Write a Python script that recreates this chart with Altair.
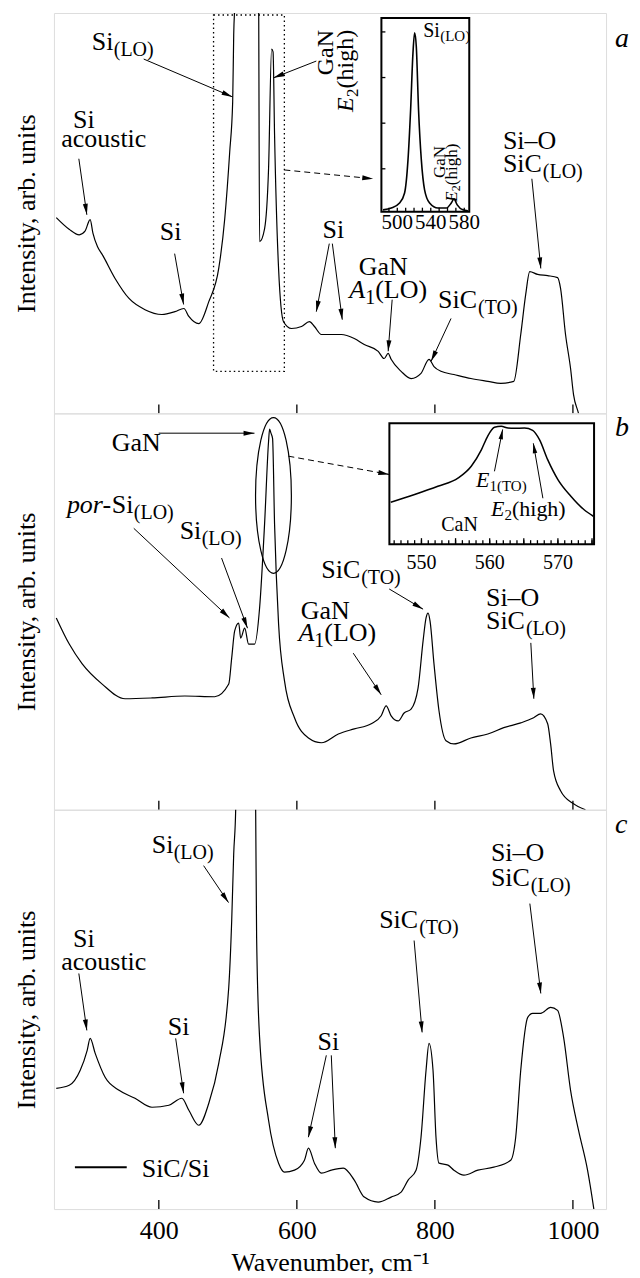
import math
import altair as alt
import pandas as pd

SERIF = "Liberation Serif"
W = 553
H = {"a": 401, "b": 397, "c": 400}
XDOM = [248, 1048]
YDOM = [0, 100]
XTICKS = [400, 600, 800, 1000]

# ---------------- spectra ----------------
a_wn = [251.4, 270.0, 284.7, 293.0, 300.5, 304.5, 311.2, 317.9, 336.6, 356.8, 380.0, 404.5, 423.3,
        436.3, 443.5, 457.9, 472.4, 486.8, 495.5, 502.7, 507.0, 508.5, 510.5, 514, 520, 530,
        540, 544.6, 546.0, 553.2, 559.0, 563.4, 565.5, 567.7, 573.5, 580.7, 592.2, 606.7,
        618.2, 625.5, 635.6, 650.0, 664.4, 683.2, 697.7, 717.9, 726.5, 732.3, 736.6, 751.1,
        765.5, 779.9, 791.5, 798.7, 808.8, 827.6, 852.2, 876.7, 895.5, 914.3, 924.4, 931.6,
        937.4, 948.9, 963.4, 977.8, 982.1, 989.3, 996.6, 1000.9, 1008.1, 1012]
a_int = [48.9, 46.0, 44.6, 45.5, 48.4, 45.0, 41.6, 39.7, 33.7, 28.7, 25.9, 24.7, 25.4,
         26.2, 24.2, 22.4, 27.9, 36.2, 48.6, 65.3, 77.8, 94.5, 105, 160, 260, 220,
         170, 105, 42.9, 46.1, 61.1, 91.0, 90.3, 69.6, 36.2, 22.9, 21.2, 21.7,
         22.9, 21.7, 19.7, 19.7, 19.7, 18.7, 17.2, 15.5, 13.7, 15.0, 13.5, 10.5,
         8.7, 10.0, 13.5, 11.7, 10.5, 9.7, 8.7, 8.0, 7.5, 8.0, 19.7, 29.7,
         35.4, 34.7, 34.4, 33.9, 31.2, 19.7, 11.2, 4.7, 0, -3]

b_wn = [251.4, 270.2, 289.0, 317.9, 351.1, 390.1, 437.7, 481.0, 501.3, 505.6, 509.9, 515.7,
        518.6, 524.4, 530.1, 538.8, 546.0, 553.2, 559.0, 560.5, 562.5, 564.8, 567.7, 573.5,
        582.1, 596.6, 616.8, 635.6, 660.1, 683.2, 707.8, 722.2, 729.4, 736.6, 746.8, 755.4,
        765.5, 775.6, 782.9, 787.2, 790.1, 793.0, 798.7, 806.0, 816.1, 827.6, 852.2, 876.7,
        899.8, 924.4, 943.1, 953.2, 963.4, 967.7, 972.0, 982.1, 1000.9, 1018.2]
b_int = [48.4, 41.8, 36.8, 31.7, 28.0, 28.2, 28.7, 28.5, 31.7, 38.3, 45.1, 47.1,
         43.3, 45.8, 41.8, 41.8, 50.9, 72.0, 92.9, 96.0, 95.0, 93.7, 72.0, 46.9,
         32.5, 23.2, 18.1, 16.9, 19.1, 20.4, 21.7, 23.7, 26.2, 23.7, 22.4, 24.4,
         25.4, 30.7, 42.6, 48.4, 49.6, 47.6, 36.8, 24.9, 17.4, 16.6, 18.1, 19.1,
         20.7, 21.9, 23.2, 24.2, 21.7, 16.6, 9.8, 4.8, 1.5, 0]

c_wn = [251.4, 270.2, 286.1, 296.2, 300.5, 307.8, 322.2, 342.4, 365.5, 390.1, 414.6, 433.4,
        443.5, 457.9, 472.4, 486.8, 501.3, 505.6, 508.5, 511.4, 515, 520, 530, 538, 540.3,
        541.7, 546.0, 559.0, 573.5, 582.1, 596.6, 611.0, 616.8, 625.5, 635.6, 650.0, 667.3,
        683.2, 697.7, 717.9, 736.6, 751.1, 761.2, 772.7, 779.9, 787.2, 791.5, 797.3, 801.6,
        806.0, 819.0, 827.6, 842.1, 862.3, 885.4, 909.9, 917.1, 924.4, 934.5, 941.7, 953.2,
        967.7, 977.8, 986.5, 996.6, 1008.1, 1021.2, 1029.9, 1032]
c_int = [30.25, 31.0, 34.75, 39.75, 42.75, 39.0, 33.0, 29.75, 27.75, 25.5, 26.0, 27.75,
         24.75, 21.0, 26.5, 36.5, 55.5, 72.25, 89.0, 100.25, 170, 260, 200, 120, 100.25,
         68.0, 43.0, 22.25, 11.5, 9.25, 9.75, 12.25, 15.25, 11.5, 9.0, 9.75, 10.25,
         7.25, 3.0, 1.75, 3.0, 4.25, 7.25, 9.75, 18.0, 34.75, 41.5, 34.75, 18.0,
         11.5, 11.0, 9.75, 8.5, 9.75, 10.5, 12.25, 18.0, 34.75, 48.0, 49.0, 49.0,
         50.5, 49.75, 43.0, 29.75, 19.75, 9.75, 0.5, -2]

# inset of panel a
ia_wn = [482.9, 492.8, 502.7, 508.7, 512.8, 515.9, 518.7, 520.7, 522.7, 525.4, 528.7, 532.6,
         538.6, 548.6, 558.5, 564.5, 567.7, 571.6, 578.4, 584.4]
ia_int = [0.10, 0.14, 0.25, 0.47, 1.20, 2.29, 3.53, 3.98, 3.68, 2.29, 1.20, 0.54,
          0.25, 0.14, 0.14, 0.25, 0.34, 0.21, 0.10, 0.08]
ia_xdom = [481, 586]
ia_ydom = [0.06, 4.305]
ia_xticks = [490, 500, 510, 520, 530, 540, 550, 560, 570, 580]
ia_yticks = [1, 2, 3, 4]
ia_labels = [500, 540, 580]

# inset of panel b
ib_wn = [545.5, 549.0, 552.4, 555.4, 557.3, 558.8, 559.7, 560.7, 561.7, 562.7, 563.6, 565.1,
         566.3, 567.3, 568.5, 570.0, 571.9, 573.8, 575.2]
ib_int = [34.7, 41.1, 47.9, 54.8, 64.5, 78.3, 89.3, 96.7, 97.5, 96.1, 95.9, 96.1,
          94.2, 86.5, 70.0, 53.5, 39.7, 28.7, 23.1]
ib_xdom = [545.3, 575.3]
ib_ydom = [0, 100]
ib_xticks = list(range(546, 576))
ib_labels = [550, 560, 570]

ARROW = "M0,0 L-0.45,2 L0.45,2 Z"
ELLIPSE = ("M0,-1 C0.127,-1 0.23,-0.552 0.23,0 C0.23,0.552 0.127,1 0,1 "
           "C-0.127,1 -0.23,0.552 -0.23,0 C-0.23,-0.552 -0.127,-1 0,-1 Z")


class Enc:
    def __init__(self, xdom, ydom, xrange=None, yrange=None, xaxis=None, yaxis=None):
        xs = dict(domain=xdom, nice=False, zero=False)
        ys = dict(domain=ydom, nice=False, zero=False)
        if xrange:
            xs["range"] = xrange
        if yrange:
            ys["range"] = yrange
        self.xs = alt.Scale(**xs)
        self.ys = alt.Scale(**ys)
        self.xaxis = xaxis
        self.yaxis = yaxis

    def X(self, f="x"):
        return alt.X(f"{f}:Q", scale=self.xs, axis=self.xaxis)

    def Y(self, f="y"):
        return alt.Y(f"{f}:Q", scale=self.ys, axis=self.yaxis)


def text(enc, x, y, s, size=26, dx=0, dy=0, italic=False, align="left", angle=0,
         baseline="alphabetic"):
    df = pd.DataFrame({"x": [x], "y": [y], "t": [s]})
    kw = dict(align=align, baseline=baseline, fontSize=size, font=SERIF, color="black",
              fontStyle="italic" if italic else "normal")
    if dx:
        kw["dx"] = dx
    if dy:
        kw["dy"] = dy
    if angle:
        kw["angle"] = angle
    return alt.Chart(df).mark_text(**kw).encode(x=enc.X(), y=enc.Y(), text="t:N")


def line(enc, xs, ys, width=1.2, interp="monotone"):
    df = pd.DataFrame({"x": xs, "y": ys})
    return alt.Chart(df).mark_line(color="black", strokeWidth=width, interpolate=interp,
                                   clip=True).encode(x=enc.X(), y=enc.Y())


def arrows(enc, arrs, sx, sy, dash=None, width=1.0, head=120):
    rows = []
    for (x1, y1, x2, y2) in arrs:
        ang = math.degrees(math.atan2((x2 - x1) * sx, (y2 - y1) * sy)) % 360
        rows.append(dict(x=x1, y=y1, x2=x2, y2=y2, ang=ang))
    df = pd.DataFrame(rows)
    rk = dict(color="black", strokeWidth=width)
    if dash:
        rk["strokeDash"] = dash
    r = alt.Chart(df).mark_rule(**rk).encode(x=enc.X(), y=enc.Y(), x2="x2:Q", y2="y2:Q")
    h = alt.Chart(df).mark_point(shape=ARROW, size=head, filled=True, color="black",
                                 opacity=1, strokeWidth=0).encode(
        x=enc.X("x2"), y=enc.Y("y2"), angle=alt.Angle("ang:Q", scale=None))
    return [r, h]


def xticks(enc, vals, y0, length):
    df = pd.DataFrame({"x": vals, "y": [y0] * len(vals), "y2": [y0 + length] * len(vals)})
    return alt.Chart(df).mark_rule(color="black", strokeWidth=1.3).encode(
        x=enc.X(), y=enc.Y(), y2="y2:Q")


def yticks(enc, vals, x0, length):
    df = pd.DataFrame({"y": vals, "x": [x0] * len(vals), "x2": [x0 + length] * len(vals)})
    return alt.Chart(df).mark_rule(color="black", strokeWidth=1.3).encode(
        x=enc.X(), y=enc.Y(), x2="x2:Q")


def frame(enc, xdom, ydom, width=2.0):
    df = pd.DataFrame({"x": [xdom[0]], "x2": [xdom[1]], "y": [ydom[0]], "y2": [ydom[1]]})
    return alt.Chart(df).mark_rect(fill="white", stroke="black", strokeWidth=width).encode(
        x=enc.X(), x2="x2:Q", y=enc.Y(), y2="y2:Q")


YAXIS = alt.Axis(title="Intensity, arb. units", labels=False, ticks=False, domain=False,
                 grid=False, titleFont=SERIF, titleFontSize=26, titleFontWeight="normal",
                 titleColor="black", titlePadding=14)
XAXIS_C = alt.Axis(values=XTICKS, format="d", labels=True, ticks=False, domain=False,
                   grid=False, title="Wavenumber, cm⁻¹", labelFont=SERIF, labelFontSize=26,
                   labelColor="black", labelPadding=8, titleFont=SERIF, titleFontSize=26,
                   titleFontWeight="normal", titleColor="black", titlePadding=7)

SX = W / (XDOM[1] - XDOM[0])


def sub(enc, x, y, base, subs, dx, size=26, ssize=20, italic=False, sdy=6):
    return [text(enc, x, y, base, size=size, italic=italic),
            text(enc, x, y, subs, size=ssize, dx=dx, dy=sdy)]


# ---------------- panel a ----------------
ea = Enc(XDOM, YDOM, xaxis=None, yaxis=YAXIS)
sya = H["a"] / 100
la = [line(ea, a_wn, a_int)]
la.append(xticks(ea, XTICKS, 0, 9 / sya))
la.append(alt.Chart(pd.DataFrame({"x": [479.3], "x2": [581.9], "y": [10.5], "y2": [99.5]}))
          .mark_rect(fillOpacity=0, stroke="black", strokeWidth=1.3, strokeDash=[1.5, 3])
          .encode(x=ea.X(), x2="x2:Q", y=ea.Y(), y2="y2:Q"))
la += sub(ea, 302.9, 90.8, "Si", "(LO)", 22)
la.append(text(ea, 652.8, 90.1, "GaN", size=24, align="center", angle=270))
la.append(text(ea, 681.7, 75.3, "E", size=24, italic=True, angle=270))
la.append(text(ea, 681.7, 75.3, "2", size=17, dx=15, dy=5, angle=270))
la.append(text(ea, 681.7, 75.3, "(high)", size=24, dx=23.5, angle=270))
la.append(text(ea, 291.4, 71.2, "Si", align="center"))
la.append(text(ea, 320.3, 66.6, "acoustic", align="center"))
la.append(text(ea, 417.1, 43.4, "Si", align="center"))
la.append(text(ea, 652.8, 43.9, "Si", align="center"))
la.append(text(ea, 725.1, 34.6, "GaN", align="center"))
la.append(text(ea, 675.9, 28.9, "A", italic=True))
la.append(text(ea, 675.9, 28.9, "1", size=20, dx=16, dy=6))
la.append(text(ea, 675.9, 28.9, "(LO)", dx=26))
la += sub(ea, 804.6, 26.2, "SiC", "(TO)", 40)
la.append(text(ea, 898.6, 66.1, "Si–O"))
la += sub(ea, 898.6, 60.3, "SiC", "(LO)", 40)
la.append(text(ea, XDOM[1], 91.5, "a", size=28, dx=9, italic=True))
la += arrows(ea, [(378.1, 88.5, 506.8, 79.05), (628.2, 88.0, 566.1, 83.8),
                  (284.1, 63.6, 295.7, 49.6), (422.9, 39.9, 435.9, 27.2),
                  (647.0, 42.4, 628.2, 25.4), (651.4, 42.4, 665.8, 23.4),
                  (738.1, 28.4, 732.3, 15.5), (823.4, 23.7, 794.5, 13.0),
                  (940.5, 58.6, 953.5, 36.2)], SX, sya)
la += arrows(ea, [(581.9, 60.8, 710.6, 58.6)], SX, sya, dash=[6, 4])

eia = Enc(ia_xdom, ia_ydom, xrange=[328, 416], yrange=[199, 5])
sxia = 88 / (ia_xdom[1] - ia_xdom[0])
syia = 194 / (ia_ydom[1] - ia_ydom[0])
lia = [frame(eia, ia_xdom, ia_ydom),
       line(eia, ia_wn, ia_int, width=1.6),
       xticks(eia, ia_xticks, ia_ydom[0], 4 / syia),
       yticks(eia, ia_yticks, ia_xdom[0], 4 / sxia)]
lia.append(text(eia, 531.0, 3.89, "Si", size=20))
lia.append(text(eia, 531.0, 3.89, "(LO)", size=15, dx=17, dy=4))
lia.append(text(eia, 557.0, 1.15, "GaN", size=17, align="center", angle=270))
lia.append(text(eia, 571.5, 0.28, "E", size=17, italic=True, angle=270))
lia.append(text(eia, 571.5, 0.28, "2", size=12, dx=10.5, dy=3, angle=270))
lia.append(text(eia, 571.5, 0.28, "(high)", size=17, dx=16.5, angle=270))
for v in ia_labels:
    lia.append(text(eia, v, ia_ydom[0], str(v), size=21, dy=17, align="center"))

panel_a = alt.layer(alt.layer(*la), alt.layer(*lia)).resolve_scale(
    x="independent", y="independent").properties(width=W, height=H["a"])

# ---------------- panel b ----------------
eb = Enc(XDOM, YDOM, xaxis=None, yaxis=YAXIS)
syb = H["b"] / 100
lb = [line(eb, b_wn, b_int)]
lb.append(xticks(eb, XTICKS, 0, 9 / syb))
lb.append(alt.Chart(pd.DataFrame({"x": [566.1], "y": [79.3]})).mark_point(
    shape=ELLIPSE, size=24336, filled=False, color="black", strokeWidth=1.2, opacity=1)
    .encode(x=eb.X(), y=eb.Y()))
lb.append(text(eb, 331.9, 90.4, "GaN"))
lb.append(text(eb, 266.8, 74.8, "por-", italic=True))
lb.append(text(eb, 266.8, 74.8, "Si", dx=45))
lb.append(text(eb, 266.8, 74.8, "(LO)", size=20, dx=67, dy=6))
lb += sub(eb, 430.2, 68.3, "Si", "(LO)", 22)
lb += sub(eb, 635.4, 58.4, "SiC", "(TO)", 40)
lb.append(text(eb, 641.2, 48.0, "GaN", align="center"))
lb.append(text(eb, 602.2, 42.6, "A", italic=True))
lb.append(text(eb, 602.2, 42.6, "1", size=20, dx=16, dy=6))
lb.append(text(eb, 602.2, 42.6, "(LO)", dx=26))
lb.append(text(eb, 874.0, 51.4, "Si–O"))
lb += sub(eb, 874.0, 45.6, "SiC", "(LO)", 40)
lb.append(text(eb, XDOM[1], 94.2, "b", size=28, dx=9, italic=True))
lb += arrows(eb, [(399.8, 95.0, 538.6, 95.0), (363.7, 71.0, 502.4, 48.4),
                  (490.9, 63.5, 528.5, 45.8), (733.8, 55.7, 782.9, 50.6),
                  (681.7, 39.5, 722.2, 29.0), (939.0, 42.1, 943.4, 28.0)], SX, syb)
lb += arrows(eb, [(587.7, 89.2, 733.8, 84.6)], SX, syb, dash=[6, 4])

eib = Enc(ib_xdom, ib_ydom, xrange=[336, 541], yrange=[131, 10])
sxib = 205 / (ib_xdom[1] - ib_xdom[0])
syib = 121 / (ib_ydom[1] - ib_ydom[0])
lib = [frame(eib, ib_xdom, ib_ydom),
       line(eib, ib_wn, ib_int, width=1.5),
       xticks(eib, ib_xticks, ib_ydom[0], 4 / syib),
       xticks(eib, [550, 555, 560, 565, 570, 575], ib_ydom[0], 6 / syib)]
lib.append(text(eib, 558.0, 47.1, "E", size=22, italic=True))
lib.append(text(eib, 558.0, 47.1, "1(TO)", size=15, dx=13.5, dy=4))
lib.append(text(eib, 560.2, 23.1, "E", size=22, italic=True))
lib.append(text(eib, 560.2, 23.1, "2", size=15, dx=13.5, dy=4))
lib.append(text(eib, 560.2, 23.1, "(high)", size=22, dx=21))
lib.append(text(eib, 552.9, 10.7, "CaN", size=20))
for v in ib_labels:
    lib.append(text(eib, v, ib_ydom[0], str(v), size=20, dy=25, align="center"))
lib += arrows(eib, [(560.7, 60.3, 561.9, 95.0), (567.8, 38.0, 566.4, 83.5)],
              sxib, syib, head=100)

panel_b = alt.layer(alt.layer(*lb), alt.layer(*lib)).resolve_scale(
    x="independent", y="independent").properties(width=W, height=H["b"])

# ---------------- panel c ----------------
ec = Enc(XDOM, YDOM, xaxis=XAXIS_C, yaxis=YAXIS)
syc = H["c"] / 100
lc = [line(ec, c_wn, c_int)]
lc.append(xticks(ec, XTICKS, 0, 9 / syc))
lc += sub(ec, 389.7, 89.25, "Si", "(LO)", 22)
lc.append(text(ec, 291.4, 65.7, "Si", align="center"))
lc.append(text(ec, 320.3, 59.75, "acoustic", align="center"))
lc.append(text(ec, 428.7, 43.5, "Si", align="center"))
lc.append(text(ec, 645.6, 39.75, "Si", align="center"))
lc += sub(ec, 719.3, 70.5, "SiC", "(TO)", 40)
lc.append(text(ec, 881.2, 87.2, "Si–O"))
lc += sub(ec, 881.2, 81.0, "SiC", "(LO)", 40)
lc.append(text(ec, XDOM[1], 94.25, "c", size=28, dx=9, italic=True))
lc.append(alt.Chart(pd.DataFrame({"x": [278.4], "x2": [353.5], "y": [10.5]}))
          .mark_rule(color="black", strokeWidth=2).encode(x=ec.X(), x2="x2:Q", y=ec.Y()))
lc.append(text(ec, 375.2, 8.0, "SiC/Si"))
lc += arrows(ec, [(464.9, 86.0, 501.0, 76.75), (284.1, 59.0, 295.7, 44.75),
                  (424.4, 42.75, 435.9, 29.0), (642.7, 38.5, 616.7, 18.0),
                  (649.9, 38.5, 655.7, 15.25), (769.9, 67.25, 781.5, 44.25),
                  (937.6, 76.5, 953.5, 54.0)], SX, syc)

panel_c = alt.layer(*lc).properties(width=W, height=H["c"])

chart = alt.vconcat(panel_a, panel_b, panel_c, spacing=0, bounds="flush").configure_view(
    stroke="black", strokeWidth=2).configure(
    padding={"left": 5, "top": 3, "right": 2, "bottom": 0}, font=SERIF)

chart.save("out.html", embed_options={"renderer": "svg", "actions": False})
